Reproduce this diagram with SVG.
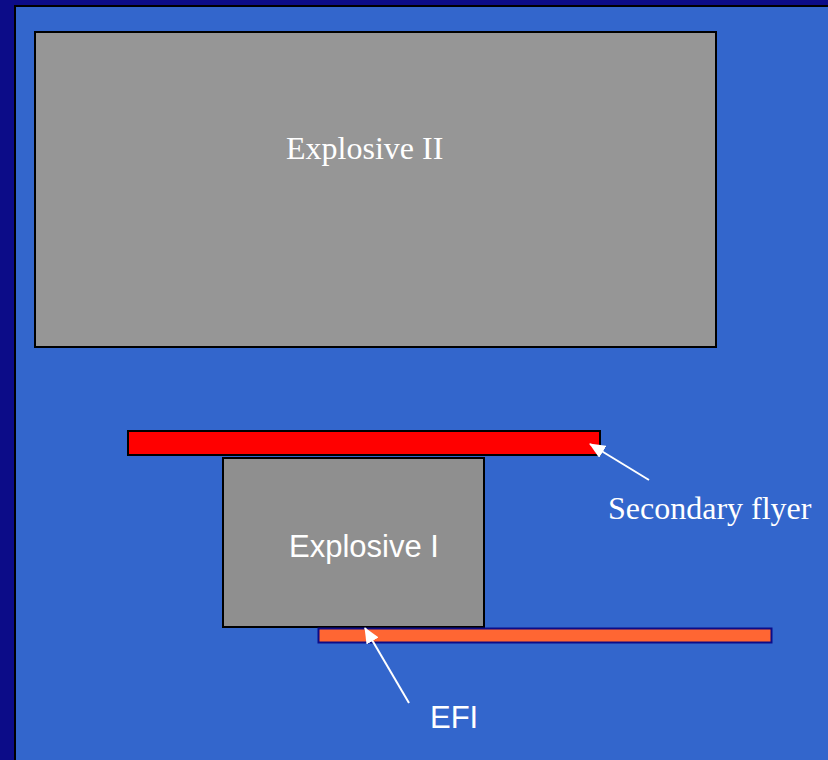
<svg xmlns="http://www.w3.org/2000/svg" width="828" height="760" viewBox="0 0 828 760">
  <defs>
    <style>
      .serif { font-family: "Liberation Serif", "Times New Roman", serif; font-size: 32px; fill: #ffffff; }
      .sans { font-family: "Liberation Sans", Arial, sans-serif; font-size: 31px; fill: #ffffff; }
      .block { stroke: #000000; stroke-width: 2; }
      .conn { stroke: #ffffff; stroke-width: 2; fill: none; }
    </style>
    <marker id="arrow" viewBox="0 0 16 14" refX="15" refY="7" markerWidth="16" markerHeight="14" markerUnits="userSpaceOnUse" orient="auto">
      <path d="M0,0 L16,7 L0,14 Z" fill="#ffffff"/>
    </marker>
  </defs>
  <rect x="0" y="0" width="828" height="760" fill="#0C0C88"/>
  <rect x="15" y="6" width="820" height="760" fill="#3366CC" stroke="#000000" stroke-width="2"/>

  <g id="explosive-ii">
    <rect class="block" x="35" y="32" width="681" height="315" fill="#969696"/>
    <text class="serif" x="286" y="159">Explosive II</text>
  </g>

  <g id="secondary-flyer">
    <rect class="block" x="128" y="431" width="472" height="24" fill="#FF0000"/>
  </g>

  <g id="explosive-i">
    <rect class="block" x="223" y="458" width="261" height="169" fill="#8F8F8F"/>
    <text class="sans" x="289" y="557">Explosive I</text>
  </g>

  <g id="efi">
    <rect x="318.5" y="628.5" width="453" height="14" fill="#FF6633" stroke="#0C0C88" stroke-width="2"/>
  </g>

  <g id="connectors">
    <line class="conn" x1="649" y1="480" x2="590" y2="444" marker-end="url(#arrow)"/>
    <line class="conn" x1="409" y1="703" x2="365" y2="628" marker-end="url(#arrow)"/>
  </g>

  <g id="labels">
    <text class="serif" x="608" y="519">Secondary flyer</text>
    <text class="sans" x="430" y="728">EFI</text>
  </g>
</svg>
